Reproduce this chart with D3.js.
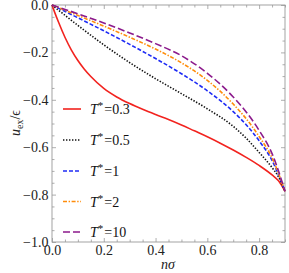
<!DOCTYPE html>
<html>
<head>
<meta charset="utf-8">
<script src="https://cdn.jsdelivr.net/npm/d3@7"></script>
<style>
  body { margin: 0; background: #fff; }
  svg { display: block; }
</style>
</head>
<body>
<div id="chart"></div>
<script>
// densities n*sigma and excess energy per particle for each T*
const n03 = [0, 0.01, 0.025, 0.05, 0.075, 0.1, 0.125, 0.15, 0.2, 0.25, 0.3, 0.35, 0.4, 0.45, 0.5, 0.55, 0.6, 0.65, 0.7, 0.75, 0.8, 0.85, 0.875, 0.9];
const u03 = [0, -0.03, -0.072, -0.136, -0.19, -0.234, -0.271, -0.302, -0.352, -0.388, -0.416, -0.44, -0.462, -0.483, -0.506, -0.531, -0.556, -0.583, -0.612, -0.643, -0.677, -0.717, -0.742, -0.786];

const n05 = [0, 0.1, 0.2, 0.3, 0.4, 0.5, 0.6, 0.7, 0.75, 0.8, 0.85, 0.875, 0.9];
const u05 = [0, -0.086, -0.168, -0.243, -0.311, -0.374, -0.438, -0.512, -0.562, -0.622, -0.686, -0.725, -0.786];

const nHi = [0, 0.1, 0.2, 0.3, 0.4, 0.5, 0.6, 0.7, 0.75, 0.8, 0.85, 0.9];
const u1  = [0, -0.054, -0.109, -0.166, -0.226, -0.29, -0.362, -0.45, -0.505, -0.573, -0.656, -0.786];
const u2  = [0, -0.044, -0.089, -0.136, -0.186, -0.244, -0.318, -0.418, -0.48, -0.555, -0.645, -0.786];
const u10 = [0, -0.037, -0.076, -0.118, -0.163, -0.214, -0.288, -0.388, -0.451, -0.529, -0.627, -0.786];

const seriesNames = ["0.3", "0.5", "1", "2", "10"];
const xTicks = [0, 0.2, 0.4, 0.6, 0.8];
const yTicks = [0, -0.2, -0.4, -0.6, -0.8, -1.0];

const W = 289, H = 273;
const x = d3.scaleLinear().domain([0, 0.9]).range([52, 285]);
const y = d3.scaleLinear().domain([-1, 0]).range([242, 5]);
const serif = '"Liberation Serif", "DejaVu Serif", serif';

const svg = d3.select('#chart').append('svg')
    .attr('width', W)
    .attr('height', H);

const series = [
    {name: seriesNames[0], n: n03, u: u03, color: '#f2231f', dash: null},
    {name: seriesNames[1], n: n05, u: u05, color: '#111', dash: '1.4,1.6'},
    {name: seriesNames[2], n: nHi, u: u1, color: '#1f2cf5', dash: '4,2'},
    {name: seriesNames[3], n: nHi, u: u2, color: '#ff8c0a', dash: '4,1.6,1.4,1.6'},
    {name: seriesNames[4], n: nHi, u: u10, color: '#8c1a8c', dash: '7,3'}
];

// minor ticks every 0.05
const xMinor = d3.range(0, 0.9001, 0.05).filter(v => Math.abs(v * 5 - Math.round(v * 5)) > 1e-6);
const yMinor = d3.range(-1, 0.0001, 0.05).filter(v => Math.abs(v * 5 - Math.round(v * 5)) > 1e-6);

function styleAxis(g) {
    g.attr('font-family', serif).attr('font-size', 14);
    g.select('.domain').remove();
    g.selectAll('.tick line').attr('stroke', '#999').attr('stroke-width', 0.8);
    g.selectAll('.tick text').attr('fill', '#222');
}

const fmt = d3.format('.1f');

// bottom
svg.append('g').attr('transform', 'translate(0,242)')
    .call(d3.axisBottom(x).tickValues(xTicks).tickSize(-4).tickPadding(3).tickFormat(fmt))
    .call(styleAxis);
svg.append('g').attr('transform', 'translate(0,242)')
    .call(d3.axisBottom(x).tickValues(xMinor).tickSize(-2.5).tickFormat(''))
    .call(styleAxis);
// top
svg.append('g').attr('transform', 'translate(0,5)')
    .call(d3.axisTop(x).tickValues(xTicks).tickSize(-4).tickFormat(''))
    .call(styleAxis);
svg.append('g').attr('transform', 'translate(0,5)')
    .call(d3.axisTop(x).tickValues(xMinor).tickSize(-2.5).tickFormat(''))
    .call(styleAxis);
// left
svg.append('g').attr('transform', 'translate(52,0)')
    .call(d3.axisLeft(y).tickValues(yTicks).tickSize(-4).tickPadding(3.5).tickFormat(fmt))
    .call(styleAxis);
svg.append('g').attr('transform', 'translate(52,0)')
    .call(d3.axisLeft(y).tickValues(yMinor).tickSize(-2.5).tickFormat(''))
    .call(styleAxis);
// right
svg.append('g').attr('transform', 'translate(285,0)')
    .call(d3.axisRight(y).tickValues(yTicks).tickSize(-4).tickFormat(''))
    .call(styleAxis);
svg.append('g').attr('transform', 'translate(285,0)')
    .call(d3.axisRight(y).tickValues(yMinor).tickSize(-2.5).tickFormat(''))
    .call(styleAxis);

// frame
svg.append('rect')
    .attr('x', x(0)).attr('y', y(0))
    .attr('width', x(0.9) - x(0)).attr('height', y(-1) - y(0))
    .attr('fill', 'none').attr('stroke', '#999').attr('stroke-width', 0.9);

// curves
const line = d3.line()
    .x(d => x(d[0]))
    .y(d => y(d[1]))
    .curve(d3.curveMonotoneX);

const plot = svg.append('g');
for (const s of series) {
    const pts = s.n.map((v, i) => [v, s.u[i]]);
    plot.append('path')
        .attr('d', line(pts))
        .attr('fill', 'none')
        .attr('stroke', s.color)
        .attr('stroke-width', 1.6)
        .attr('stroke-dasharray', s.dash);
}

// legend
const legY = [109, 140, 171, 201.5, 232];
const leg = svg.append('g');
series.forEach((s, i) => {
    leg.append('line')
        .attr('x1', 63).attr('x2', 81)
        .attr('y1', legY[i]).attr('y2', legY[i])
        .attr('stroke', s.color)
        .attr('stroke-width', 1.6)
        .attr('stroke-dasharray', s.dash);
    const t = leg.append('text')
        .attr('x', 90).attr('y', legY[i] + 5)
        .attr('font-family', serif)
        .attr('font-size', 14)
        .attr('fill', '#111');
    t.append('tspan').attr('font-style', 'italic').text('T');
    t.append('tspan').attr('font-size', 11).attr('dy', -5).text('*');
    t.append('tspan').attr('dy', 5).attr('dx', 1).text('=' + s.name);
});

// axis labels
svg.append('text')
    .attr('x', 168).attr('y', 269)
    .attr('text-anchor', 'middle')
    .attr('font-family', serif)
    .attr('font-size', 14)
    .attr('font-style', 'italic')
    .attr('fill', '#222')
    .text('nσ');

const yl = svg.append('text')
    .attr('transform', 'translate(20,123) rotate(-90)')
    .attr('text-anchor', 'middle')
    .attr('font-family', serif)
    .attr('font-size', 14)
    .attr('fill', '#222');
yl.append('tspan').attr('font-style', 'italic').text('u');
yl.append('tspan').attr('font-size', 10).attr('dy', 3).text('ex');
yl.append('tspan').attr('dy', -3).text('/ϵ');
</script>
</body>
</html>
